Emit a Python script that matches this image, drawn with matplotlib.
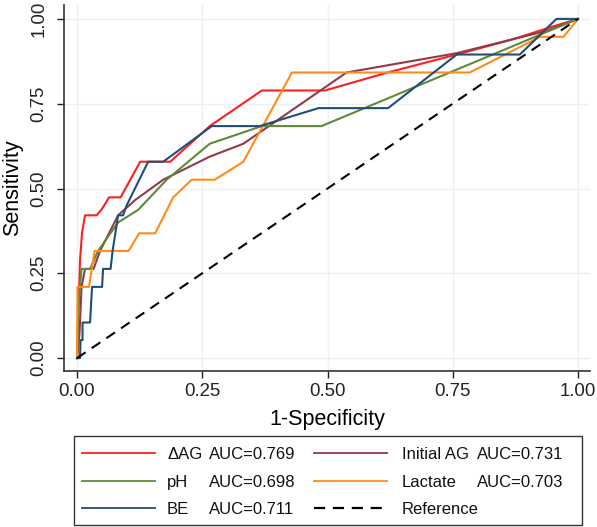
import matplotlib
matplotlib.use("Agg")
import matplotlib.pyplot as plt
from matplotlib.lines import Line2D
from matplotlib.patches import Rectangle

plt.rcParams['font.family'] = ['Liberation Sans', 'DejaVu Sans']

# ---- data ----
dag_x = [0, 0.001, 0.006, 0.01, 0.016, 0.039, 0.05, 0.064, 0.087, 0.126, 0.186, 0.265, 0.369, 0.495, 0.62, 0.758, 0.87, 0.944, 1.0]
dag_y = [0, 0.05, 0.29, 0.37, 0.421, 0.421, 0.44, 0.474, 0.474, 0.579, 0.579, 0.684, 0.789, 0.789, 0.842, 0.895, 0.94, 0.975, 1.0]

iag_x = [0, 0.005, 0.009, 0.016, 0.033, 0.046, 0.082, 0.116, 0.172, 0.265, 0.332, 0.538, 0.758, 0.938, 1.0]
iag_y = [0, 0.073, 0.21, 0.263, 0.263, 0.316, 0.421, 0.466, 0.526, 0.594, 0.632, 0.842, 0.899, 0.965, 1.0]

ph_x = [0, 0.003, 0.009, 0.026, 0.042, 0.082, 0.122, 0.179, 0.265, 0.369, 0.488, 1.0]
ph_y = [0, 0.163, 0.263, 0.263, 0.316, 0.40, 0.437, 0.526, 0.632, 0.684, 0.684, 1.0]

lac_x = [0, 0.001, 0.024, 0.035, 0.103, 0.124, 0.156, 0.192, 0.229, 0.275, 0.332, 0.429, 0.784, 0.924, 0.971, 1.0]
lac_y = [0, 0.21, 0.21, 0.316, 0.316, 0.368, 0.368, 0.474, 0.526, 0.526, 0.579, 0.842, 0.842, 0.947, 0.947, 1.0]

be_x = [0, 0.006, 0.007, 0.011, 0.011, 0.026, 0.028, 0.03, 0.05, 0.052, 0.067, 0.071, 0.082, 0.092, 0.099, 0.142, 0.172, 0.269, 0.365, 0.482, 0.621, 0.758, 0.884, 0.957, 1.0]
be_y = [0, 0, 0.053, 0.053, 0.105, 0.105, 0.158, 0.21, 0.21, 0.263, 0.263, 0.316, 0.421, 0.421, 0.45, 0.579, 0.579, 0.684, 0.684, 0.737, 0.737, 0.895, 0.895, 1.0, 1.0]

ref_x = [0, 1]
ref_y = [0, 1]

series_names = ["\u0394AG", "Initial AG", "pH", "Lactate", "BE", "Reference"]
auc_labels = ["AUC=0.769", "AUC=0.731", "AUC=0.698", "AUC=0.703", "AUC=0.711", ""]
ticks = [0, 0.25, 0.5, 0.75, 1.0]
tick_labels = ["0.00", "0.25", "0.50", "0.75", "1.00"]

colors = {"dag": "#ff1f1f", "iag": "#923a47", "ph": "#5e8a36", "lac": "#ff8c1a", "be": "#1f4e7a"}
dash = (0, (5, 3.5))

# ---- figure ----
W, H = 597, 527
fig = plt.figure(figsize=(W / 100, H / 100), dpi=100)
ax = fig.add_axes([64 / W, 1 - 371 / H, 526 / W, 366 / H])

for v in ticks:
    ax.axhline(v, color="#eaf2f3", lw=1.0, zorder=0)
    ax.axvline(v, color="#eaf2f3", lw=1.0, zorder=0)

lw = 1.5
ax.plot(dag_x, dag_y, color=colors["dag"], lw=lw)
ax.plot(iag_x, iag_y, color=colors["iag"], lw=lw)
ax.plot(ph_x, ph_y, color=colors["ph"], lw=lw)
ax.plot(lac_x, lac_y, color=colors["lac"], lw=lw)
ax.plot(be_x, be_y, color=colors["be"], lw=lw)
ax.plot(ref_x, ref_y, color="black", lw=1.5, ls=dash)

ax.set_xlim(-0.026, 1.024)
ax.set_ylim(-0.038, 1.041)
ax.set_xticks(ticks)
ax.set_xticklabels(tick_labels)
ax.set_yticks(ticks)
ax.set_yticklabels(tick_labels, rotation=90, va="center")
ax.tick_params(axis="both", direction="out", length=5, width=1.0, labelsize=13.4, colors="#222222")
ax.tick_params(axis="x", pad=4)
ax.tick_params(axis="y", pad=7)
for s in ["top", "right"]:
    ax.spines[s].set_visible(False)
for s in ["left", "bottom"]:
    ax.spines[s].set_color("#333333")
    ax.spines[s].set_linewidth(1.2)
ax.set_xlabel("1-Specificity", fontsize=15.5, labelpad=6)
ax.set_ylabel("Sensitivity", fontsize=15.5, labelpad=5)

# ---- legend (drawn in figure pixel coordinates) ----
def fx(px):
    return px / W

def fy(py):
    return 1 - py / H

fig.add_artist(Rectangle((fx(74), fy(525)), fx(582) - fx(74), fy(436) - fy(525),
                         transform=fig.transFigure, facecolor="white",
                         edgecolor="#333333", lw=1.0))
row_y = [453, 481, 508]
col_handle = [(82, 155), (314, 387)]
col_name = [167, 402]
col_auc = [209, 477]
styles = [(colors["dag"], "-"), (colors["iag"], "-"), (colors["ph"], "-"),
          (colors["lac"], "-"), (colors["be"], "-"), ("black", dash)]
for i, (name, auc) in enumerate(zip(series_names, auc_labels)):
    r, c = divmod(i, 2)
    yy = fy(row_y[r])
    col, ls = styles[i]
    fig.add_artist(Line2D([fx(col_handle[c][0]), fx(col_handle[c][1])], [yy, yy],
                          transform=fig.transFigure, color=col, ls=ls,
                          lw=1.3 if ls == "-" else 1.6))
    fig.text(fx(col_name[c]), yy, name, fontsize=12, va="center_baseline", ha="left", color="#111111")
    if auc:
        fig.text(fx(col_auc[c]), yy, auc, fontsize=12, va="center_baseline", ha="left", color="#111111")

fig.savefig("out.png", dpi=100)
